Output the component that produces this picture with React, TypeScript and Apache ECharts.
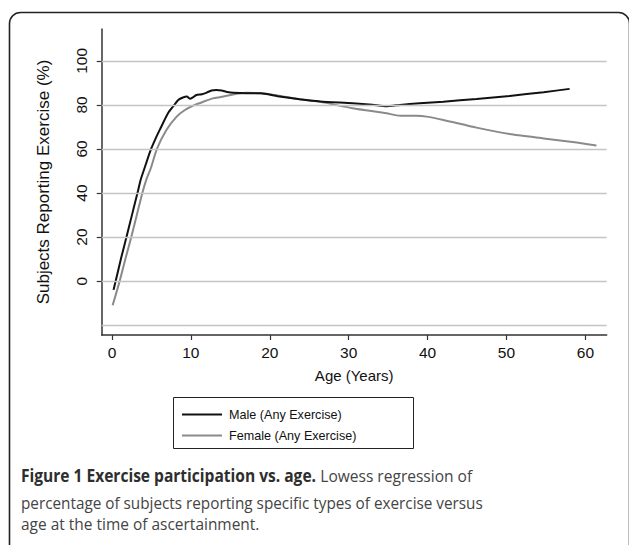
import React, { useEffect, useRef } from "react";
import * as echarts from "echarts";

const maleAge = [0.2, 0.5, 1.2, 1.84, 2.5, 3.2, 3.64, 4.1, 4.9, 5.5, 6.1, 7.1, 7.9, 8.4, 9.0, 9.5, 9.9, 10.2, 10.7, 11.4, 12.0, 12.6, 13.2, 13.9, 14.6, 15.4, 17.0, 18.8, 21.0, 23.8, 26.4, 30.5, 33.0, 34.8, 36.5, 39.0, 42.0, 46.2, 50.4, 54.7, 58.0];
const maleVal = [-4, 0.5, 11, 20, 29.5, 39.5, 46, 51, 59.5, 64.5, 69, 76.2, 80, 82.3, 83.4, 83.8, 82.8, 83.3, 84.5, 84.9, 85.6, 86.6, 86.8, 86.6, 85.9, 85.5, 85.3, 85.3, 84.0, 82.6, 81.6, 80.8, 80.1, 79.4, 80.0, 80.8, 81.5, 82.7, 84.1, 85.8, 87.3];

const femaleAge = [0.09, 0.98, 1.7, 2.45, 3.15, 3.85, 4.4, 4.9, 5.7, 6.9, 8.2, 9.25, 10.5, 11.6, 12.8, 13.8, 15.0, 17.0, 19.0, 21.5, 23.8, 26.4, 30.5, 34.8, 36.5, 38.6, 39.9, 42.0, 46.2, 50.4, 54.7, 58.9, 61.4];
const femaleVal = [-11, 0, 10, 20, 30, 40, 46.5, 51, 60, 68.6, 74.7, 77.7, 80, 81.5, 83, 83.6, 84.5, 85.5, 85.3, 84.0, 82.6, 81.4, 78.5, 76.2, 75.1, 75.1, 74.7, 73.2, 69.7, 66.8, 64.8, 62.9, 61.6];

const xTicks = [0, 10, 20, 30, 40, 50, 60];
const yTicks = [0, 20, 40, 60, 80, 100];
const gridValues = [-20, 0, 20, 40, 60, 80, 100];

const seriesNames = ["Male (Any Exercise)", "Female (Any Exercise)"];
const captionBold = "Figure 1 Exercise participation vs. age.";
const captionLines = [
  " Lowess regression of",
  "percentage of subjects reporting specific types of exercise versus",
  "age at the time of ascertainment.",
];

const AXIS_FONT = "'Liberation Sans', Arial, Helvetica, sans-serif";
const CAP_FONT = "'Open Sans', 'Noto Sans', sans-serif";

export default function App() {
  const ref = useRef<HTMLDivElement | null>(null);
  useEffect(() => {
    if (!ref.current) return;
    const chart = echarts.init(ref.current, null, { renderer: "svg" });
    const male = maleAge.map((a, i) => [a, maleVal[i]]);
    const female = femaleAge.map((a, i) => [a, femaleVal[i]]);
    chart.setOption({
      animation: false,
      backgroundColor: "#ffffff",
      grid: { left: 101.7, right: 22.3, top: 29, bottom: 210, containLabel: false },
      xAxis: {
        type: "value",
        min: -1.3,
        max: 62.7,
        name: "Age (Years)",
        nameLocation: "middle",
        nameGap: 33,
        nameTextStyle: { fontFamily: AXIS_FONT, fontSize: 15, color: "#111" },
        axisLine: { show: true, onZero: false, lineStyle: { color: "#333", width: 1.5 } },
        axisTick: { show: true, customValues: xTicks, length: 5, lineStyle: { color: "#333", width: 1.2 } },
        axisLabel: { customValues: xTicks, margin: 9, fontFamily: AXIS_FONT, fontSize: 15.5, color: "#111" },
        splitLine: { show: false },
      },
      yAxis: {
        type: "value",
        min: -24.5,
        max: 114.5,
        name: "Subjects Reporting Exercise (%)",
        nameLocation: "middle",
        nameGap: 50,
        nameTextStyle: { fontFamily: AXIS_FONT, fontSize: 17, color: "#111" },
        axisLine: { show: true, onZero: false, lineStyle: { color: "#333", width: 1.5 } },
        axisTick: { show: true, customValues: yTicks, length: 5, lineStyle: { color: "#333", width: 1.2 } },
        axisLabel: { customValues: yTicks, rotate: 90, margin: 12.5, fontFamily: AXIS_FONT, fontSize: 15.5, color: "#111" },
        splitLine: { show: false },
      },
      legend: {
        data: seriesNames,
        orient: "vertical",
        left: 177,
        top: 403,
        padding: 5,
        itemWidth: 40,
        itemHeight: 14,
        itemGap: 8,
        icon: "path://M0,6 L40,6 L40,8 L0,8 Z",
        textStyle: { fontFamily: AXIS_FONT, fontSize: 12.6, color: "#111", padding: [0, 0, 0, 2] },
        selectedMode: false,
      },
      graphic: [
        {
          type: "rect",
          shape: { x: 173.5, y: 397.5, width: 240, height: 51 },
          style: { fill: "none", stroke: "#222", lineWidth: 1 },
          silent: true,
        },
        {
          type: "rect",
          shape: { x: 9.5, y: 12.5, width: 620, height: 620, r: 11 },
          style: { fill: "none", stroke: "#222", lineWidth: 1.6 },
          silent: true,
        },
        {
          type: "text",
          x: 21,
          y: 467.5,
          scaleX: 0.915,
          style: {
            text: "{b|" + captionBold + "}{r|" + captionLines[0] + "}",
            rich: {
              b: { fontFamily: CAP_FONT, fontSize: 17, fontWeight: "bold", fill: "#2e2e2e" },
              r: { fontFamily: CAP_FONT, fontSize: 17, fill: "#444" },
            },
          },
          silent: true,
        },
        {
          type: "text",
          x: 21,
          y: 494.5,
          scaleX: 0.9,
          style: { text: captionLines[1], fontFamily: CAP_FONT, fontSize: 17, fill: "#444" },
          silent: true,
        },
        {
          type: "text",
          x: 21,
          y: 515.5,
          scaleX: 0.91,
          style: { text: captionLines[2], fontFamily: CAP_FONT, fontSize: 17, fill: "#444" },
          silent: true,
        },
      ],
      series: [
        {
          name: "gridlines",
          type: "line",
          data: [],
          z: 1,
          silent: true,
          markLine: {
            silent: true,
            symbol: "none",
            label: { show: false },
            lineStyle: { color: "#c4c4c4", width: 1.3, type: "solid" },
            data: gridValues.map((v) => ({ yAxis: v })),
          },
        },
        {
          name: seriesNames[0],
          type: "line",
          data: male,
          showSymbol: false,
          symbol: "none",
          smooth: 0.2,
          z: 3,
          itemStyle: { color: "#111" },
          lineStyle: { color: "#111", width: 2 },
        },
        {
          name: seriesNames[1],
          type: "line",
          data: female,
          showSymbol: false,
          symbol: "none",
          smooth: 0.2,
          z: 2,
          itemStyle: { color: "#8a8a8a" },
          lineStyle: { color: "#8a8a8a", width: 2 },
        },
      ],
    });
    return () => chart.dispose();
  }, []);
  return (
    <div
      ref={ref}
      style={{ position: "absolute", left: 0, top: 0, width: 629, height: 545, background: "#fff" }}
    />
  );
}
